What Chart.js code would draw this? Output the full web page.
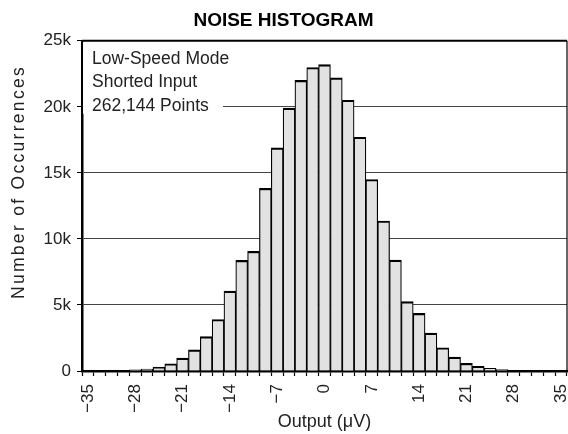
<!DOCTYPE html>
<html>
<head>
<meta charset="utf-8">
<script src="https://cdn.jsdelivr.net/npm/chart.js@4/dist/chart.umd.min.js"></script>
<style>
  html, body { margin: 0; padding: 0; background: #fff; }
  #wrap { width: 568px; height: 434px; }
</style>
</head>
<body>
<div id="wrap"><canvas id="chart"></canvas></div>
<script>
// bin centres in uV (one bin = 1.75 uV)
const binCenters = [-35, -33.25, -31.5, -29.75, -28, -26.25, -24.5, -22.75, -21, -19.25,
  -17.5, -15.75, -14, -12.25, -10.5, -8.75, -7, -5.25, -3.5, -1.75, 0,
  1.75, 3.5, 5.25, 7, 8.75, 10.5, 12.25, 14, 15.75, 17.5, 19.25, 21,
  22.75, 24.5, 26.25, 28, 29.75, 31.5, 33.25, 35];

// occurrences per bin
const counts = [0, 0, 0, 0, 80, 150, 300, 550, 970, 1600,
  2600, 3900, 6050, 8370, 9060, 13830, 16900, 19900, 22000, 22980, 23200,
  22200, 20500, 17700, 14500, 11360, 8400, 5250, 4360, 2870, 1760, 1050,
  580, 350, 210, 100, 0, 0, 0, 0, 0];

// which bins get a label on the x axis
const xTickValues = [-35, -28, -21, -14, -7, 0, 7, 14, 21, 28, 35];
const yTickValues = [0, 5000, 10000, 15000, 20000, 25000];

const noteLines = ['Low-Speed Mode', 'Shorted Input', '262,144 Points'];
const yTitle = 'Number of Occurrences';

const FONT = '"Liberation Sans", Arial, Helvetica, sans-serif';

// box around the plot, the note in the top-left corner, the y title
const framePlugin = {
    id: 'frame',
    beforeDatasetsDraw(chart) {
        const { ctx, chartArea: a } = chart;
        ctx.save();
        // mask the 20k grid line behind the note
        ctx.fillStyle = '#fff';
        ctx.fillRect(a.left + 1, a.top + 1, 140, 72);
        ctx.fillStyle = '#222';
        ctx.font = '17.5px ' + FONT;
        ctx.textBaseline = 'middle';
        noteLines.forEach((t, i) => ctx.fillText(t, a.left + 10, a.top + 18 + i * 23.5));
        ctx.restore();
    },
    afterDraw(chart) {
        const { ctx, chartArea: a } = chart;
        ctx.save();
        ctx.strokeStyle = '#000';
        ctx.lineWidth = 2;
        ctx.beginPath();
        ctx.moveTo(a.left, a.top);
        ctx.lineTo(a.right, a.top);
        ctx.stroke();
        ctx.lineWidth = 1.2;
        ctx.beginPath();
        ctx.moveTo(a.right, a.top);
        ctx.lineTo(a.right, a.bottom);
        ctx.stroke();

        // y title, drawn by hand for the wide letter spacing
        ctx.translate(19, 182);
        ctx.rotate(-Math.PI / 2);
        ctx.fillStyle = '#222';
        ctx.font = '17.5px ' + FONT;
        ctx.letterSpacing = '2.3px';
        ctx.textAlign = 'center';
        ctx.textBaseline = 'middle';
        ctx.fillText(yTitle, 0, 0);
        ctx.restore();
    }
};

new Chart(document.getElementById('chart'), {
    type: 'bar',
    data: {
        labels: binCenters,
        datasets: [{
            data: counts,
            backgroundColor: '#e1e2e1',
            borderColor: '#000',
            borderWidth: { top: 2.2, left: 1.2, right: 1.2, bottom: 0 },
            borderSkipped: false,
            barPercentage: 1,
            categoryPercentage: 1
        }]
    },
    plugins: [framePlugin],
    options: {
        responsive: true,
        maintainAspectRatio: false,
        animation: false,
        layout: { padding: { left: 0, right: 1, top: 0, bottom: 0 } },
        plugins: {
            legend: { display: false },
            tooltip: { enabled: false },
            title: {
                display: true,
                text: 'NOISE HISTOGRAM',
                color: '#000',
                font: { family: FONT, size: 19, weight: 'bold' },
                padding: { top: 9, bottom: 9 }
            }
        },
        scales: {
            x: {
                afterFit: s => {
                    s.height = 63;
                    s.paddingLeft = 0;
                    s.paddingRight = 0;
                },
                border: { color: '#000', width: 2.5 },
                grid: {
                    offset: true,
                    drawOnChartArea: false,
                    drawTicks: true,
                    tickLength: 5,
                    tickColor: '#000',
                    tickWidth: 1.2
                },
                ticks: {
                    autoSkip: false,
                    minRotation: 90,
                    maxRotation: 90,
                    padding: 8,
                    color: '#222',
                    font: { family: FONT, size: 17 },
                    callback: (v, i) => {
                        const c = binCenters[i];
                        if (!xTickValues.includes(c)) return '';
                        return c < 0 ? '\u2212' + Math.abs(c) : String(c);
                    }
                },
                title: {
                    display: true,
                    text: 'Output (\u03bcV)',
                    color: '#222',
                    font: { family: FONT, size: 18 },
                    padding: { top: 0, bottom: 1 }
                }
            },
            y: {
                min: 0,
                max: 25000,
                afterFit: s => { s.width = 82; },
                afterBuildTicks: s => { s.ticks = yTickValues.map(v => ({ value: v })); },
                border: { color: '#000', width: 2.5 },
                grid: {
                    color: '#444',
                    lineWidth: 1,
                    drawTicks: true,
                    tickLength: 5,
                    tickColor: '#000'
                },
                ticks: {
                    padding: 6,
                    color: '#222',
                    font: { family: FONT, size: 17 },
                    callback: v => v === 0 ? '0' : (v / 1000) + 'k'
                },
                title: { display: false }
            }
        }
    }
});
</script>
</body>
</html>
